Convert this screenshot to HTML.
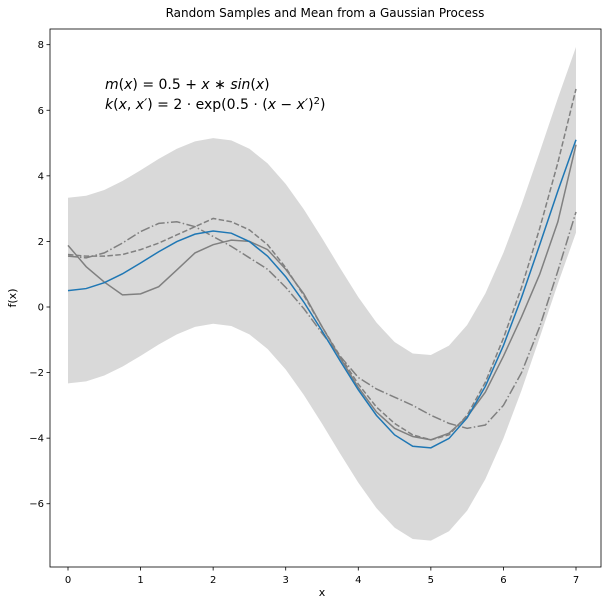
<!DOCTYPE html>
<html><head><meta charset="utf-8"><style>
body{margin:0;background:#fff;}
text{font-family:"DejaVu Sans","Liberation Sans",sans-serif;}
</style></head><body>
<svg id="chart" width="608" height="604" xmlns="http://www.w3.org/2000/svg">
<rect width="608" height="604" fill="#fff"/>
<g id="plot"></g>
<text x="325" y="17" text-anchor="middle" font-size="12">Random Samples and Mean from a Gaussian Process</text>
<text x="322" y="596" text-anchor="middle" font-size="11">x</text>
<text transform="translate(16,298) rotate(-90)" text-anchor="middle" font-size="11">f(x)</text>
<text x="105" y="89" font-size="14" font-family="DejaVu Serif, serif"><tspan font-style="italic">m</tspan>(<tspan font-style="italic">x</tspan>) = 0.5 + <tspan font-style="italic">x</tspan> ∗ <tspan font-style="italic">sin</tspan>(<tspan font-style="italic">x</tspan>)</text>
<text x="105" y="109" font-size="14" font-family="DejaVu Serif, serif"><tspan font-style="italic">k</tspan>(<tspan font-style="italic">x</tspan>, <tspan font-style="italic">x′</tspan>) = 2 ⋅ exp(0.5 ⋅ (<tspan font-style="italic">x</tspan> − <tspan font-style="italic">x′</tspan>)<tspan baseline-shift="super" font-size="10">2</tspan>)</text>
</svg>
<script>
const xs=[0,0.25,0.5,0.75,1,1.25,1.5,1.75,2,2.25,2.5,2.75,3,3.25,3.5,3.75,4,4.25,4.5,4.75,5,5.25,5.5,5.75,6,6.25,6.5,6.75,7];
const meanVals=[0.5,0.562,0.740,1.011,1.341,1.686,1.996,2.222,2.319,2.251,1.996,1.550,0.923,0.148,-0.728,-1.643,-2.527,-3.304,-3.899,-4.247,-4.295,-4.009,-3.380,-2.423,-1.176,0.293,1.898,3.538,5.099];
const bandHalfWidth=2.83;
const sampleSolid=[1.88,1.23,0.76,0.37,0.40,0.62,1.13,1.65,1.90,2.04,2.00,1.75,1.15,0.4,-0.6,-1.55,-2.45,-3.2,-3.7,-3.95,-4.05,-3.85,-3.35,-2.6,-1.5,-0.3,1.0,2.6,4.95];
const sampleDashed=[1.6,1.55,1.55,1.6,1.75,1.95,2.2,2.45,2.7,2.6,2.35,1.9,1.2,0.35,-0.6,-1.5,-2.35,-3.05,-3.55,-3.9,-4.05,-3.9,-3.3,-2.3,-0.95,0.6,2.4,4.4,6.65];
const sampleDashDot=[1.55,1.5,1.65,1.95,2.3,2.55,2.6,2.45,2.15,1.85,1.5,1.15,0.6,-0.05,-0.8,-1.5,-2.15,-2.5,-2.75,-3.0,-3.3,-3.55,-3.7,-3.6,-3.0,-2.0,-0.6,1.1,2.9];
const xTicks=[0,1,2,3,4,5,6,7];
const yTicks=[-6,-4,-2,0,2,4,6,8];

const L=50,R=601,T=29,B=567;
const sx=v=>68+v*(576-68)/7;
const sy=v=>307-v*32.79;
const NS="http://www.w3.org/2000/svg";
const g=document.getElementById('plot');
function mk(t,a){const e=document.createElementNS(NS,t);for(const k in a)e.setAttribute(k,a[k]);g.appendChild(e);return e;}

const up=xs.map((x,i)=>sx(x)+','+sy(meanVals[i]+bandHalfWidth));
const lo=xs.map((x,i)=>sx(x)+','+sy(meanVals[i]-bandHalfWidth)).reverse();
const band=mk('polygon',{points:up.concat(lo).join(' '),fill:'#d9d9d9'});



function line(vals,stroke,dash,name){
  const p=mk('polyline',{points:xs.map((x,i)=>sx(x)+','+sy(vals[i])).join(' '),fill:'none',stroke:stroke,'stroke-width':1.5});
  if(dash)p.setAttribute('stroke-dasharray',dash);
  
  
}
line(sampleSolid,'#808080',null,'sample-solid');
line(sampleDashed,'#808080','5.5,2.4','sample-dashed');
line(sampleDashDot,'#808080','9.6,2.4,1.5,2.4','sample-dashdot');
line(meanVals,'#1f77b4',null,'mean-line');

const frame=mk('rect',{x:L,y:T,width:R-L,height:B-T,fill:'none',stroke:'#000','stroke-width':0.8});


xTicks.forEach(v=>{
  const x=sx(v);
  const t=mk('line',{x1:x,x2:x,y1:B,y2:B+3.5,stroke:'#000','stroke-width':0.8});
  
  
  const l=mk('text',{x:x,y:B+16,'text-anchor':'middle','font-size':10});
  l.textContent=v;
  
  
});
yTicks.forEach(v=>{
  const y=sy(v);
  const t=mk('line',{x1:L-3.5,x2:L,y1:y,y2:y,stroke:'#000','stroke-width':0.8});
  
  
  const l=mk('text',{x:L-6,y:y+3.5,'text-anchor':'end','font-size':10});
  l.textContent=v<0?'\u2212'+(-v):v;
  
  
});
</script>
</body></html>
